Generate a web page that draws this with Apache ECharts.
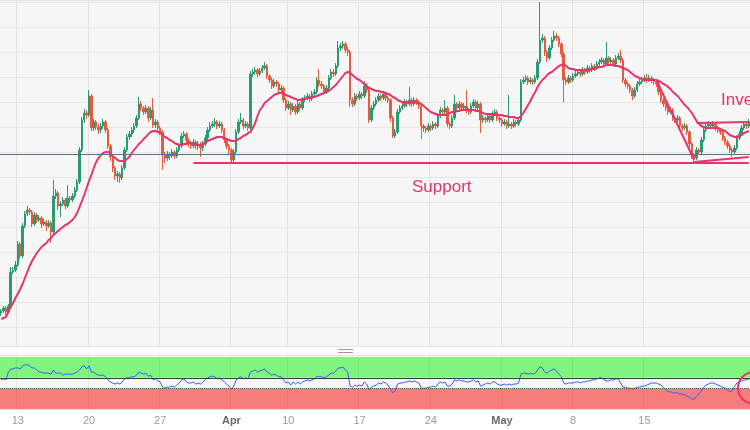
<!DOCTYPE html>
<html><head><meta charset="utf-8">
<script src="https://cdn.jsdelivr.net/npm/echarts@6/dist/echarts.min.js"></script>
<style>html,body{margin:0;padding:0;background:#fff}#c{width:750px;height:430px}</style>
</head><body><div id="c"></div>
<script>
// ---- data (price in chart units, 4H candles) ----
const opens = [1014,1016,1019,1015,1021,1055,1057,1062,1083,1071,
1101,1113,1117,1115,1103,1112,1107,1109,1103,1105,
1101,1104,1095,1131,1134,1121,1123,1127,1121,1129,
1127,1131,1137,1145,1177,1207,1214,1212,1231,1199,
1205,1200,1197,1201,1205,1197,1181,1170,1159,1151,
1153,1149,1159,1177,1190,1193,1197,1201,1209,1223,
1219,1215,1219,1209,1217,1202,1205,1199,1195,1172,
1169,1173,1171,1175,1171,1177,1181,1191,1193,1187,
1183,1181,1185,1181,1183,1179,1183,1189,1197,1201,
1203,1205,1201,1203,1197,1187,1181,1177,1167,1175,
1195,1205,1207,1201,1203,1199,1253,1255,1257,1253,
1256,1259,1261,1251,1247,1241,1245,1243,1237,1239,
1227,1219,1223,1217,1221,1215,1223,1219,1227,1229,
1231,1228,1233,1235,1247,1243,1241,1235,1239,1249,
1255,1253,1261,1279,1281,1283,1277,1275,1227,1223,
1231,1229,1233,1231,1241,1237,1207,1219,1223,1227,
1231,1229,1233,1229,1227,1209,1191,1195,1215,1219,
1221,1225,1223,1227,1223,1227,1225,1221,1201,1199,
1197,1201,1199,1203,1201,1211,1217,1215,1219,1203,
1201,1209,1223,1219,1223,1219,1221,1217,1215,1221,
1225,1219,1223,1207,1209,1207,1211,1207,1213,1215,
1209,1207,1203,1205,1201,1203,1201,1205,1203,1207,
1245,1247,1249,1245,1247,1245,1249,1265,1287,1289,
1275,1269,1279,1287,1291,1289,1283,1273,1247,1245,
1249,1247,1251,1253,1255,1253,1257,1255,1259,1257,
1261,1259,1263,1265,1267,1263,1269,1265,1267,1263,
1269,1271,1267,1247,1243,1241,1237,1231,1237,1243,
1245,1247,1249,1247,1249,1247,1245,1243,1235,1227,
1223,1219,1215,1217,1209,1207,1209,1201,1199,1201,
1195,1183,1172,1169,1177,1175,1187,1197,1201,1203,
1201,1203,1199,1197,1195,1189,1185,1181,1177,1175,
1179,1189,1193,1199,1203,1201];
const closes = [1016,1019,1015,1021,1055,1057,1062,1083,1071,1101,
1113,1117,1115,1103,1112,1107,1109,1103,1105,1101,
1104,1095,1131,1134,1121,1123,1127,1121,1129,1127,
1131,1137,1145,1177,1207,1214,1212,1231,1199,1205,
1200,1197,1201,1205,1197,1181,1170,1159,1151,1153,
1149,1159,1177,1190,1193,1197,1201,1209,1223,1219,
1215,1219,1209,1217,1202,1205,1199,1195,1172,1169,
1173,1171,1175,1171,1177,1181,1191,1193,1187,1183,
1181,1185,1181,1183,1179,1183,1189,1197,1201,1203,
1205,1201,1203,1197,1187,1181,1177,1167,1175,1195,
1205,1207,1201,1203,1199,1253,1255,1257,1253,1256,
1259,1261,1251,1247,1241,1245,1243,1237,1239,1227,
1219,1223,1217,1221,1215,1223,1219,1227,1229,1231,
1228,1233,1235,1247,1243,1241,1235,1239,1249,1255,
1253,1261,1279,1281,1283,1277,1275,1227,1223,1231,
1229,1233,1231,1241,1237,1207,1219,1223,1227,1231,
1229,1233,1229,1227,1209,1191,1195,1215,1219,1221,
1225,1223,1227,1223,1227,1225,1221,1201,1199,1197,
1201,1199,1203,1201,1211,1217,1215,1219,1203,1201,
1209,1223,1219,1223,1219,1221,1217,1215,1221,1225,
1219,1223,1207,1209,1207,1211,1207,1213,1215,1209,
1207,1203,1205,1201,1203,1201,1205,1203,1207,1245,
1247,1249,1245,1247,1245,1249,1265,1287,1289,1275,
1269,1279,1287,1291,1289,1283,1273,1247,1245,1249,
1247,1251,1253,1255,1253,1257,1255,1259,1257,1261,
1259,1263,1265,1267,1263,1269,1265,1267,1263,1269,
1271,1267,1247,1243,1241,1237,1231,1237,1243,1245,
1247,1249,1247,1249,1247,1245,1243,1235,1227,1223,
1219,1215,1217,1209,1207,1209,1201,1199,1201,1195,
1183,1172,1169,1177,1175,1187,1197,1201,1203,1201,
1203,1199,1197,1195,1189,1185,1181,1177,1175,1179,
1189,1193,1199,1203,1201,1205];
const highs = [1018,1021,1021,1023,1060,1060,1066,1086,1085,1104,
1116,1121,1119,1117,1115,1114,1112,1111,1108,1107,
1107,1106,1147,1138,1136,1126,1130,1129,1142,1131,
1134,1140,1148,1180,1210,1218,1217,1237,1233,1208,
1207,1203,1204,1208,1207,1199,1183,1172,1161,1156,
1155,1162,1180,1193,1196,1200,1204,1212,1230,1226,
1221,1222,1221,1220,1229,1208,1207,1201,1197,1175,
1176,1175,1178,1177,1180,1184,1194,1196,1195,1189,
1186,1188,1187,1186,1185,1186,1192,1200,1205,1206,
1209,1207,1206,1205,1199,1189,1183,1179,1178,1198,
1208,1214,1209,1206,1205,1256,1258,1260,1259,1259,
1262,1265,1263,1253,1249,1248,1247,1245,1242,1241,
1229,1226,1225,1224,1223,1226,1225,1230,1232,1234,
1233,1236,1238,1250,1258,1246,1243,1242,1252,1258,
1258,1264,1286,1284,1286,1285,1280,1277,1230,1234,
1233,1236,1235,1246,1244,1239,1222,1226,1230,1234,
1233,1236,1235,1231,1229,1211,1198,1218,1222,1224,
1228,1227,1240,1229,1230,1229,1227,1223,1203,1201,
1204,1203,1206,1205,1214,1220,1219,1227,1221,1205,
1212,1232,1225,1226,1225,1224,1237,1219,1224,1228,
1227,1226,1225,1212,1211,1214,1213,1216,1218,1217,
1211,1209,1208,1207,1232,1205,1208,1207,1210,1248,
1250,1252,1251,1250,1249,1252,1268,1325,1293,1291,
1277,1282,1290,1296,1294,1291,1285,1275,1250,1252,
1251,1254,1256,1258,1257,1260,1259,1262,1261,1264,
1263,1266,1268,1270,1269,1285,1271,1270,1269,1272,
1274,1277,1269,1249,1245,1243,1239,1240,1246,1248,
1250,1252,1253,1252,1251,1249,1247,1245,1237,1229,
1225,1221,1220,1219,1211,1212,1211,1203,1204,1203,
1197,1185,1174,1180,1179,1190,1200,1204,1206,1205,
1206,1205,1201,1199,1197,1191,1187,1183,1179,1182,
1192,1196,1202,1206,1205,1208];
const lows = [1011,1014,1012,1013,1019,1053,1055,1060,1068,1069,
1099,1111,1112,1100,1101,1104,1105,1099,1101,1096,
1099,1084,1093,1128,1117,1110,1121,1118,1119,1124,
1125,1129,1135,1143,1175,1204,1208,1210,1196,1196,
1197,1193,1194,1198,1194,1178,1166,1155,1147,1145,
1144,1147,1157,1175,1187,1190,1194,1199,1207,1216,
1212,1213,1205,1207,1199,1199,1196,1192,1157,1164,
1166,1167,1169,1168,1169,1175,1179,1189,1184,1180,
1178,1179,1178,1177,1170,1176,1181,1187,1195,1199,
1200,1198,1199,1194,1184,1178,1173,1164,1165,1173,
1193,1203,1198,1199,1196,1197,1250,1252,1250,1251,
1254,1257,1248,1244,1238,1239,1240,1234,1235,1224,
1216,1217,1212,1215,1212,1213,1216,1217,1225,1227,
1225,1226,1231,1233,1240,1238,1232,1233,1237,1247,
1250,1251,1259,1276,1278,1274,1271,1220,1220,1221,
1226,1227,1228,1229,1234,1204,1205,1217,1221,1225,
1226,1227,1226,1224,1205,1189,1189,1193,1213,1217,
1219,1220,1221,1220,1221,1222,1218,1188,1195,1194,
1195,1196,1197,1198,1199,1209,1212,1213,1200,1198,
1199,1207,1216,1217,1216,1217,1214,1212,1213,1219,
1216,1217,1194,1204,1204,1205,1204,1205,1211,1206,
1204,1200,1201,1198,1199,1198,1199,1200,1201,1205,
1243,1245,1242,1243,1242,1243,1247,1263,1284,1271,
1265,1267,1277,1285,1286,1280,1270,1225,1242,1243,
1244,1245,1249,1251,1250,1251,1252,1253,1254,1255,
1256,1257,1261,1263,1260,1261,1262,1263,1260,1261,
1267,1264,1244,1240,1238,1234,1227,1229,1235,1241,
1243,1245,1244,1245,1244,1242,1240,1232,1224,1220,
1216,1212,1213,1206,1204,1205,1198,1196,1197,1192,
1180,1168,1165,1167,1172,1173,1185,1195,1199,1198,
1199,1196,1194,1192,1186,1182,1178,1174,1170,1173,
1177,1187,1191,1197,1198,1199];
const maValues = [1008,1009,1010,1015,1020,1024,1029,1033,1038,1043,
1049,1055,1061,1066,1070,1074,1077,1080,1082,1084,
1087,1089,1092,1094,1096,1098,1100,1102,1103,1105,
1107,1110,1114,1120,1126,1132,1139,1146,1152,1159,
1165,1169,1172,1174,1175,1175,1174,1171,1169,1167,
1166,1166,1166,1168,1170,1174,1177,1180,1183,1185,
1188,1190,1193,1195,1196,1196,1195,1194,1192,1190,
1189,1187,1186,1184,1183,1182,1182,1183,1183,1184,
1184,1183,1183,1182,1182,1183,1184,1186,1187,1188,
1189,1190,1190,1190,1189,1188,1187,1186,1186,1186,
1188,1189,1191,1192,1194,1195,1199,1204,1211,1217,
1220,1224,1226,1228,1230,1232,1233,1234,1234,1233,
1232,1231,1230,1229,1228,1227,1227,1228,1228,1229,
1229,1230,1230,1231,1232,1233,1234,1235,1236,1238,
1240,1242,1245,1248,1251,1254,1255,1254,1252,1250,
1248,1247,1245,1243,1241,1239,1238,1237,1236,1236,
1235,1235,1234,1233,1232,1230,1229,1227,1226,1225,
1225,1225,1225,1225,1225,1224,1224,1223,1221,1219,
1217,1215,1214,1213,1212,1212,1212,1212,1213,1214,
1215,1215,1216,1216,1217,1217,1217,1217,1217,1217,
1216,1216,1215,1214,1213,1213,1213,1213,1212,1212,
1212,1212,1211,1211,1210,1210,1210,1209,1209,1211,
1214,1218,1222,1226,1231,1235,1240,1244,1247,1249,
1252,1254,1255,1257,1259,1261,1262,1263,1261,1259,
1258,1258,1257,1257,1257,1257,1257,1257,1257,1258,
1258,1259,1260,1260,1261,1262,1262,1262,1262,1261,
1261,1260,1259,1258,1257,1255,1253,1251,1250,1249,
1248,1247,1247,1247,1247,1247,1247,1246,1245,1243,
1242,1240,1238,1235,1233,1231,1228,1225,1222,1220,
1217,1214,1210,1206,1203,1201,1200,1199,1199,1199,
1199,1199,1199,1198,1197,1196,1194,1192,1191,1190,
1190,1191,1192,1194,1195,1196];
const rsiValues = [56,58,56,71,77,77,79,79,77,83,
85,85,83,79,79,75,71,71,69,69,
69,67,75,69,69,69,65,67,67,67,
67,69,71,75,81,83,77,83,71,71,
67,65,65,65,62,56,52,50,48,50,
48,52,58,60,60,62,62,65,71,69,
67,69,63,65,56,58,54,52,42,40,
42,42,44,42,46,50,56,58,52,50,
50,52,48,50,48,52,56,60,62,63,
62,58,60,56,52,48,44,38,44,56,
60,62,58,60,58,71,73,75,71,73,
75,77,71,69,65,67,65,62,62,56,
50,52,46,52,48,52,48,52,54,56,
54,56,58,63,62,62,60,62,65,69,
69,73,79,79,81,75,71,44,42,46,
44,46,44,52,48,37,42,44,46,50,
48,52,50,46,38,31,35,48,50,50,
52,52,54,52,54,52,50,40,40,40,
42,42,44,42,48,52,50,52,44,44,
48,56,54,56,54,54,52,52,54,56,
52,54,44,46,48,50,48,52,52,48,
46,46,48,46,48,46,48,48,50,67,
69,69,67,69,67,69,75,81,79,71,
69,73,75,77,73,67,62,50,48,50,
50,50,52,52,50,52,52,54,54,56,
56,58,60,60,56,54,54,56,56,58,
58,50,42,42,40,40,38,40,42,42,
44,44,46,48,50,50,50,48,46,42,
37,33,33,31,31,31,29,29,27,25,
23,19,19,25,29,35,42,46,48,50,
50,48,46,44,42,40,37,33,35,44,
50,52,54,56,56,58];
const tickDays = ['2023-03-13','2023-03-20','2023-03-27','2023-04-03','2023-04-10','2023-04-17','2023-04-24','2023-05-01','2023-05-08','2023-05-15'];
const tickLabels = ['13','20','27','Apr','10','17','24','May','8','15'];
const priceLine = 1173;
const supportLevel = 1164;
const supportStart = 81;
const trendLines = [
  [[276,1247],[292,1167]],
  [[293,1204],[315,1205]],
  [[292,1165],[315,1170]]
];
const rsiUpper = 60, rsiLower = 40;
const firstCandle = Date.UTC(2023,2,9,20);
const holidays = ['2023-04-07'];

// ---- categories: 4H trading candles ----
const categories = [];
for (let t = firstCandle; categories.length < closes.length; t += 4*3600*1000) {
  const d = new Date(t), dow = d.getUTCDay(), iso = d.toISOString();
  const day = iso.slice(0,10);
  if (dow !== 0 && dow !== 6 && holidays.indexOf(day) < 0) categories.push(day + ' ' + iso.slice(11,16));
}
const tickMap = {};
tickDays.forEach((d,i) => { tickMap[d + ' 00:00'] = tickLabels[i]; });
const isTick = (i, v) => tickMap[v] !== undefined;

const candleData = categories.map((c,i) => [opens[i], closes[i], lows[i], highs[i]]);

const RED = '#e9336b';
const UP = '#2a9a70', DOWN = '#e45b3d';
const L = -1, R = -2;

const chart = echarts.init(document.getElementById('c'), null, {renderer:'canvas'});
chart.setOption({
  animation: false,
  backgroundColor: '#ffffff',
  grid: [
    {left:L, right:R, top:0, height:346},
    {left:L, right:R, top:2, height:325},
    {left:L, right:R, top:357, height:52}
  ],
  xAxis: [
    {type:'category', gridIndex:0, data:categories, boundaryGap:true,
     axisLine:{show:false}, axisTick:{show:false}, axisLabel:{show:false},
     splitLine:{show:true, interval:isTick, lineStyle:{color:'#e3e3e3', width:1}}},
    {type:'category', gridIndex:1, data:categories, boundaryGap:true,
     axisLine:{show:false}, axisTick:{show:false}, axisLabel:{show:false}, splitLine:{show:false}},
    {type:'category', gridIndex:2, data:categories, boundaryGap:true, z:5,
     axisLine:{show:true, lineStyle:{color:'#e2e2e2'}}, axisTick:{show:false},
     splitLine:{show:true, interval:isTick, lineStyle:{color:'rgba(0,0,0,0.06)'}},
     axisLabel:{show:true, interval:isTick, margin:6,
       formatter: v => { const l = tickMap[v]; return /^[A-Z]/.test(l) ? '{m|' + l + '}' : '{d|' + l + '}'; },
       rich:{
         d:{fontSize:11, color:'#9a9a9a', fontFamily:'"Liberation Sans", Arial, sans-serif'},
         m:{fontSize:11, color:'#6a6a6a', fontWeight:'bold', fontFamily:'"Liberation Sans", Arial, sans-serif'}
       }}}
  ],
  yAxis: [
    {type:'value', gridIndex:0, min:0, max:1, show:false},
    {type:'value', gridIndex:1, min:1000, max:1325, interval:25, scale:false,
     axisLine:{show:false}, axisTick:{show:false}, axisLabel:{show:false},
     splitLine:{show:true, lineStyle:{color:'#e6e6e6', width:1}}},
    {type:'value', gridIndex:2, min:0, max:100, show:false, splitLine:{show:false}}
  ],
  graphic: {elements: [
    {type:'rect', z:-100, shape:{x:0, y:0, width:750, height:346}, style:{fill:'#f6f6f6'}},
    {type:'rect', z:-100, shape:{x:0, y:0, width:750, height:1}, style:{fill:'#dfe4ec'}},
    {type:'rect', z:-100, shape:{x:0, y:346, width:750, height:1}, style:{fill:'#dfe4ec'}},
    {type:'rect', z:-100, shape:{x:0, y:356, width:750, height:54}, style:{fill:'#f6f6f6'}},
    {type:'rect', z:-100, shape:{x:0, y:355, width:750, height:1}, style:{fill:'#e4e4e4'}},
    {type:'rect', z:10, shape:{x:338, y:349, width:15, height:1}, style:{fill:'#9a9a9a'}},
    {type:'rect', z:10, shape:{x:338, y:352, width:15, height:1}, style:{fill:'#9a9a9a'}},
    {type:'text', z:100, left:412, top:179,
     style:{text:'Support', fill:RED, font:'17px "Liberation Sans", Arial, sans-serif'}},
    {type:'text', z:100, left:721, top:92,
     style:{text:'Inverse Head and Shoulders', fill:RED, font:'17px "Liberation Sans", Arial, sans-serif'}},
    {type:'circle', z:100, shape:{cx:754, cy:388, r:16}, style:{fill:'none', stroke:RED, lineWidth:2}}
  ]},
  series: [
    {type:'candlestick', xAxisIndex:1, yAxisIndex:1, data:candleData, barWidth:'80%', z:2,
     itemStyle:{color:UP, color0:DOWN, borderColor:UP, borderColor0:DOWN, borderWidth:1}},
    {type:'line', xAxisIndex:1, yAxisIndex:1, data:maValues, showSymbol:false, z:3,
     lineStyle:{color:RED, width:2}, silent:true,
     markLine:{silent:true, symbol:['none','none'], label:{show:false},
       data:[
         {yAxis:priceLine, lineStyle:{color:'#5b6d93', width:1, type:'solid'}},
         [{coord:[supportStart, supportLevel], lineStyle:{color:RED, width:2, type:'solid'}},
          {coord:[categories.length-1, supportLevel]}]
       ].concat(trendLines.map(t => [
         {coord:t[0], lineStyle:{color:RED, width:2, type:'solid'}}, {coord:t[1]}
       ]))}},
    {type:'line', xAxisIndex:2, yAxisIndex:2, data:rsiValues, showSymbol:false, z:4,
     lineStyle:{color:'#3d5ef0', width:1}, silent:true,
     markArea:{silent:true, data:[
       [{yAxis:rsiUpper, itemStyle:{color:'#7ff57f', opacity:1}}, {yAxis:100}],
       [{yAxis:0, itemStyle:{color:'#f77c7c', opacity:1}}, {yAxis:rsiLower}]
     ]},
     markLine:{silent:true, symbol:['none','none'], label:{show:false},
       data:[
         {yAxis:rsiUpper, lineStyle:{color:'#3a3a3a', width:1, type:'solid'}},
         {yAxis:rsiLower, lineStyle:{color:'#555555', width:1, type:'dotted'}}
       ]}}
  ]
});
</script>
</body></html>
